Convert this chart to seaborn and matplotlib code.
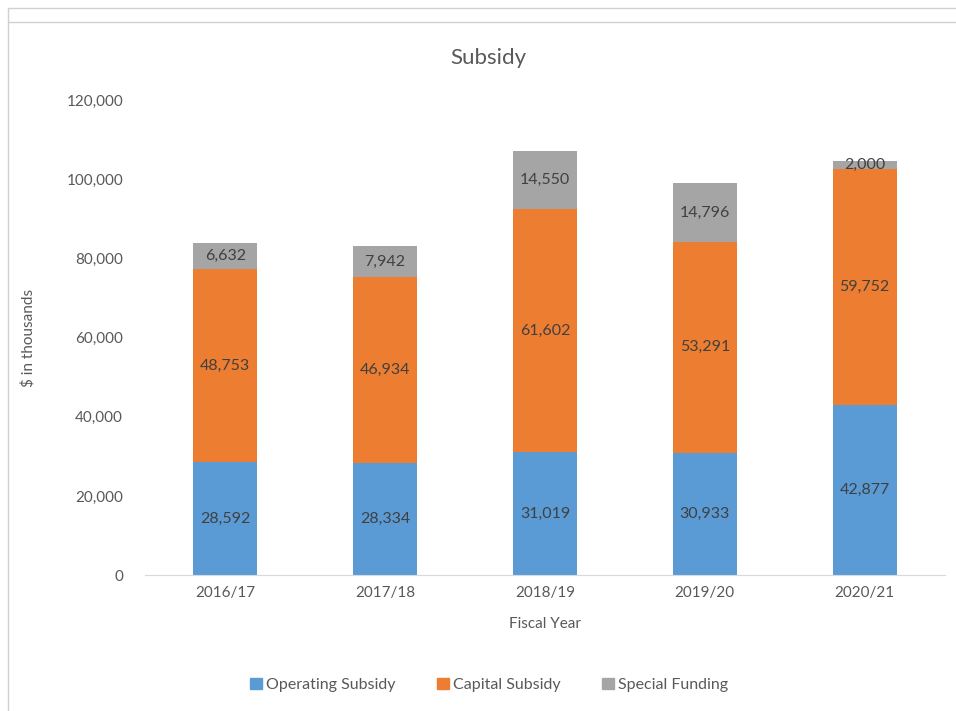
import seaborn as sns
import pandas as pd
import matplotlib.pyplot as plt
from matplotlib.lines import Line2D
from matplotlib.patches import Patch

years = ["2016/17", "2017/18", "2018/19", "2019/20", "2020/21"]
operating = [28592, 28334, 31019, 30933, 42877]
capital = [48753, 46934, 61602, 53291, 59752]
special = [6632, 7942, 14550, 14796, 2000]

sns.set_style("white")
plt.rcParams['font.family'] = ['Lato', 'DejaVu Sans']

df = pd.DataFrame({"year": years, "op": operating, "cap": capital, "sp": special})
df["op_cap"] = df["op"] + df["cap"]
df["total"] = df["op_cap"] + df["sp"]

c_op, c_cap, c_sp = "#5B9BD5", "#ED7D31", "#A5A5A5"
txt = "#404040"
tick_c = "#595959"

fig = plt.figure(figsize=(9.56, 7.11), dpi=100)
ax = fig.add_axes([0.152, 0.191, 0.836, 0.668])

# stacked bars: draw cumulative totals from the top layer down
sns.barplot(data=df, x="year", y="total", color=c_sp, width=0.4, saturation=1, linewidth=0, ax=ax)
sns.barplot(data=df, x="year", y="op_cap", color=c_cap, width=0.4, saturation=1, linewidth=0, ax=ax)
sns.barplot(data=df, x="year", y="op", color=c_op, width=0.4, saturation=1, linewidth=0, ax=ax)

for i in range(len(years)):
    ax.text(i, operating[i] / 2, f"{operating[i]:,}", ha="center", va="center", fontsize=11.5, color=txt)
    ax.text(i, operating[i] + capital[i] / 2, f"{capital[i]:,}", ha="center", va="center", fontsize=11.5, color=txt)
    ax.text(i, operating[i] + capital[i] + special[i] / 2, f"{special[i]:,}", ha="center", va="center", fontsize=11.5, color=txt)

ax.set_xlim(-0.5, 4.5)
ax.set_ylim(0, 120000)
ax.set_yticks(range(0, 120001, 20000))
ax.set_yticklabels([f"{v:,}" for v in range(0, 120001, 20000)])
ax.tick_params(axis="both", length=0, labelsize=11, colors=tick_c, pad=8)
ax.tick_params(axis="y", pad=16)

for s in ["top", "right", "left"]:
    ax.spines[s].set_visible(False)
ax.spines["bottom"].set_color("#D9D9D9")

ax.set_xlabel("Fiscal Year", fontsize=11, color=tick_c, labelpad=12)
ax.set_ylabel("$ in thousands", fontsize=11, color=tick_c, labelpad=22)
fig.text(0.511, 0.918, "Subsidy", ha="center", va="center", fontsize=16, color=tick_c)

handles = [Patch(color=c_op), Patch(color=c_cap), Patch(color=c_sp)]
fig.legend(handles, ["Operating Subsidy", "Capital Subsidy", "Special Funding"],
           loc="center", bbox_to_anchor=(0.512, 0.036), ncol=3, frameon=False,
           fontsize=11.5, labelcolor=tick_c, handlelength=0.7, handleheight=0.7,
           handletextpad=0.3, columnspacing=2.6)

# frame lines from the screenshot
fig.add_artist(Line2D([0.008, 1.0], [0.989, 0.989], color="#D0D0D0", lw=1))
fig.add_artist(Line2D([0.008, 1.0], [0.969, 0.969], color="#D0D0D0", lw=1))
fig.add_artist(Line2D([0.008, 0.008], [0.0, 0.989], color="#D0D0D0", lw=1))

plt.savefig("out.png", dpi=100)
